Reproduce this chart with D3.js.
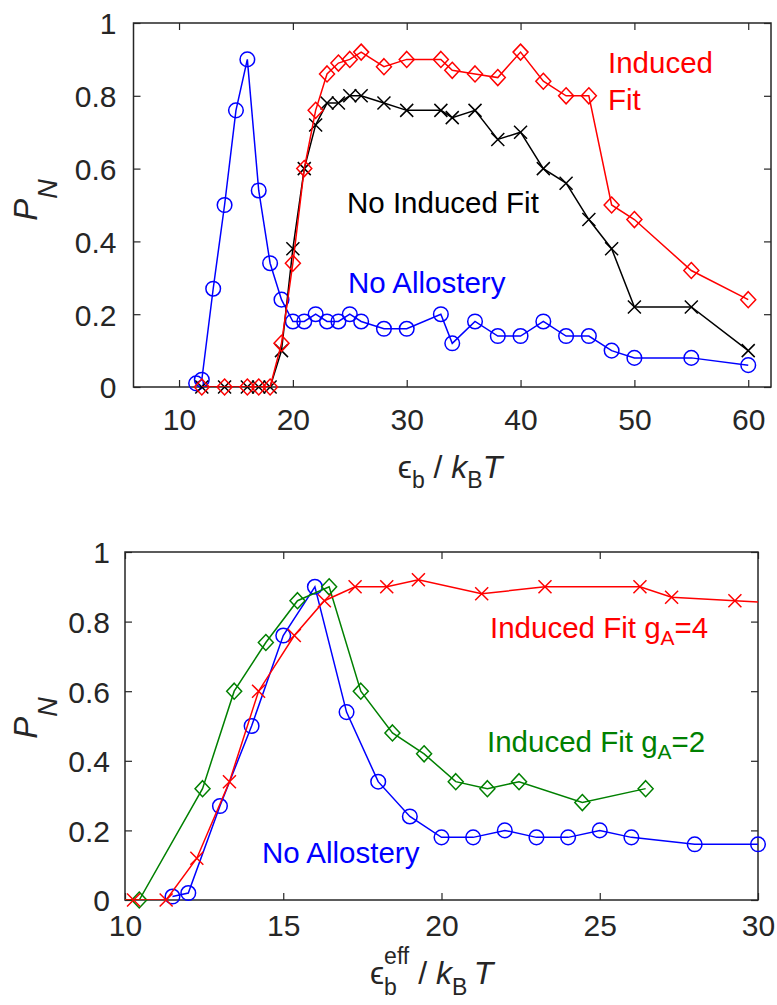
<!DOCTYPE html>
<html><head><meta charset="utf-8">
<script src="https://cdn.jsdelivr.net/npm/d3@7"></script>
<style>
body{margin:0;background:#fff}
svg{display:block}
text{font-family:"Liberation Sans",Arial,Helvetica,sans-serif}
</style>
</head><body>
<svg id="chart" width="777" height="1005"></svg>
<script>
// ---------- data: top panel ----------
const topXTicks = [10, 20, 30, 40, 50, 60];
const topXTickLabels = ["10", "20", "30", "40", "50", "60"];
const yTicks = [0, 0.2, 0.4, 0.6, 0.8, 1];
const yTickLabels = ["0", "0.2", "0.4", "0.6", "0.8", "1"];

const topNoAlloX = [11.5,12,13,14,15,16,17,18,19,20,21,22,23,24,25,26,28,30,33,34,36,38,40,42,44,46,48,50,55,60];
const topNoAlloY = [0.01,0.02,0.27,0.5,0.76,0.9,0.54,0.34,0.24,0.18,0.18,0.2,0.18,0.18,0.2,0.18,0.16,0.16,0.2,0.12,0.18,0.14,0.14,0.18,0.14,0.14,0.1,0.08,0.08,0.06];

const topNoIFX = [12,14,16,17,18,19,20,21,22,23,24,25,26,28,30,33,34,36,38,40,42,44,46,48,50,55,60];
const topNoIFY = [0,0,0,0,0,0.1,0.38,0.6,0.72,0.78,0.78,0.8,0.8,0.78,0.76,0.76,0.74,0.76,0.68,0.7,0.6,0.56,0.46,0.38,0.22,0.22,0.1];

const topIFX = [12,14,16,17,18,19,20,21,22,23,24,25,26,28,30,33,34,36,38,40,42,44,46,48,50,55,60];
const topIFY = [0,0,0,0,0,0.12,0.34,0.6,0.76,0.86,0.89,0.9,0.92,0.88,0.9,0.9,0.87,0.86,0.85,0.92,0.84,0.8,0.8,0.5,0.46,0.32,0.24];

// ---------- data: bottom panel ----------
const botXTicks = [10, 15, 20, 25, 30];
const botXTickLabels = ["10", "15", "20", "25", "30"];

const botNoAlloX = [11.5,12,13,14,15,16,17,18,19,20,21,22,23,24,25,26,28,30];
const botNoAlloY = [0.01,0.02,0.27,0.5,0.76,0.9,0.54,0.34,0.24,0.18,0.18,0.2,0.18,0.18,0.2,0.18,0.16,0.16];

const botIF2X = [8.45,10.45,12.45,13.45,14.45,15.45,16.45,17.45,18.45,19.45,20.45,21.45,22.45,24.45,26.45];
const botIF2Y = [0,0,0.32,0.6,0.74,0.86,0.9,0.6,0.48,0.42,0.34,0.32,0.34,0.28,0.32];

const botIF4X = [9.27,10.27,11.3,12.27,13.3,14.22,15.35,16.3,17.27,18.27,19.27,21.27,23.27,26.27,27.27,29.27,31.27];
const botIF4Y = [0,0,0,0.12,0.34,0.6,0.76,0.86,0.9,0.9,0.92,0.88,0.9,0.9,0.87,0.86,0.85];

// ---------- drawing ----------
const svg = d3.select("#chart");
const AX = "#262626";

function markerPath(type){
  if(type === "diamond") return "M0,-8L7.5,0L0,8L-7.5,0Z";
  if(type === "x") return "M-6.5,-6.5L6.5,6.5M-6.5,6.5L6.5,-6.5";
  return null;
}

function drawPanel(cfg, id){
  const {l, r, t, b} = cfg.box;
  const x = d3.scaleLinear().domain(cfg.xDomain).range([l, r]);
  const y = d3.scaleLinear().domain([0, 1]).range([b, t]);
  const g = svg.append("g");

  g.append("clipPath").attr("id", "clip" + id)
    .append("rect").attr("x", l).attr("y", t).attr("width", r - l).attr("height", b - t);

  const tick = 7;
  const ax = g.append("g").attr("transform", `translate(0,${b})`)
    .call(d3.axisBottom(x).tickValues(cfg.xTicks).tickSizeInner(-tick).tickSizeOuter(0)
      .tickPadding(cfg.xPad).tickFormat((d, i) => cfg.xTickLabels[i]));
  const ay = g.append("g").attr("transform", `translate(${l},0)`)
    .call(d3.axisLeft(y).tickValues(yTicks).tickSizeInner(-tick).tickSizeOuter(0)
      .tickPadding(cfg.yPad).tickFormat((d, i) => yTickLabels[i]));
  const axT = g.append("g").attr("transform", `translate(0,${t})`)
    .call(d3.axisTop(x).tickValues(cfg.xTicks).tickSizeInner(-tick).tickSizeOuter(0).tickFormat(""));
  const ayR = g.append("g").attr("transform", `translate(${r},0)`)
    .call(d3.axisRight(y).tickValues(yTicks).tickSizeInner(-tick).tickSizeOuter(0).tickFormat(""));
  [ax, ay, axT, ayR].forEach(a => {
    a.select(".domain").remove();
    a.selectAll(".tick line").attr("stroke", AX).attr("stroke-width", 1.2);
    a.selectAll(".tick text").attr("fill", AX).attr("font-size", 30)
      .attr("font-family", '"Liberation Sans",Arial,sans-serif');
  });
  ay.selectAll(".tick text").attr("dy", "0.36em");
  ax.selectAll(".tick text").attr("dy", "0.72em");

  g.append("rect").attr("x", l).attr("y", t).attr("width", r - l).attr("height", b - t)
    .attr("fill", "none").attr("stroke", AX).attr("stroke-width", 1.5);

  cfg.series.forEach(s => {
    const pts = s.x.map((v, i) => [v, s.y[i]]);
    g.append("path").attr("clip-path", `url(#clip${id})`)
      .attr("d", d3.line().x(d => x(d[0])).y(d => y(d[1]))(pts))
      .attr("fill", "none").attr("stroke", s.color).attr("stroke-width", 1.5);
    const inPts = pts.filter(d => d[0] >= cfg.xDomain[0] && d[0] <= cfg.xDomain[1]);
    if(s.marker === "circle"){
      g.selectAll(null).data(inPts).join("circle")
        .attr("cx", d => x(d[0])).attr("cy", d => y(d[1])).attr("r", 7.3)
        .attr("fill", "none").attr("stroke", s.color).attr("stroke-width", 1.5);
    } else {
      g.selectAll(null).data(inPts).join("path")
        .attr("transform", d => `translate(${x(d[0])},${y(d[1])})`)
        .attr("d", markerPath(s.marker))
        .attr("fill", "none").attr("stroke", s.color).attr("stroke-width", 1.5);
    }
  });

  const yl = g.append("text").attr("transform", `translate(37,${cfg.yLabelCenter}) rotate(-90)`)
    .attr("text-anchor", "middle").attr("fill", AX).attr("font-style", "italic");
  yl.append("tspan").attr("font-size", 33).text("P");
  yl.append("tspan").attr("font-size", 27).attr("dy", 20).text("N");

  const xl = g.append("text").attr("y", cfg.xLabelBase).attr("fill", AX).attr("font-size", 32);
  xl.append("tspan").text("\u03F5");
  xl.append("tspan").attr("font-size", 23).attr("dy", cfg.subDy).text("b");
  let back = -cfg.subDy;
  if(cfg.eff){
    xl.append("tspan").attr("font-size", 23).attr("dx", -12.8).attr("dy", -cfg.subDy - 20).text("eff");
    back = 20;
  }
  xl.append("tspan").attr("dy", back).text(" / ");
  xl.append("tspan").attr("font-style", "italic").text("k");
  xl.append("tspan").attr("font-size", 23).attr("dy", cfg.subDy).text("B");
  xl.append("tspan").attr("font-style", "italic").attr("dy", -cfg.subDy).text(cfg.eff ? "\u2009T" : "T");
  const w = xl.node().getComputedTextLength();
  xl.attr("x", cfg.xLabelCenter - w / 2);

  cfg.notes.forEach(n => {
    const tx = g.append("text").attr("x", n.x).attr("y", n.y).attr("fill", n.color).attr("font-size", 29.5);
    tx.append("tspan").text(n.text);
    if(n.sub){
      tx.append("tspan").attr("font-size", 21).attr("dy", 7).text(n.sub);
      tx.append("tspan").attr("dy", -7).text(n.after);
    }
  });
}

drawPanel({
  box: {l: 133.5, r: 771, t: 23, b: 387},
  xDomain: [6, 62], xTicks: topXTicks, xTickLabels: topXTickLabels,
  xPad: 21, yPad: 17,
  yLabelCenter: 200, xLabelCenter: 450, xLabelBase: 478, subDy: 10, eff: false,
  series: [
    {x: topNoAlloX, y: topNoAlloY, color: "#0000ff", marker: "circle"},
    {x: topNoIFX, y: topNoIFY, color: "#000000", marker: "x"},
    {x: topIFX, y: topIFY, color: "#ff0000", marker: "diamond"}
  ],
  notes: [
    {x: 608, y: 73, color: "#ff0000", text: "Induced"},
    {x: 608, y: 110, color: "#ff0000", text: "Fit"},
    {x: 347, y: 213, color: "#000000", text: "No Induced Fit"},
    {x: 348, y: 293, color: "#0000ff", text: "No Allostery"}
  ]
}, 1);

drawPanel({
  box: {l: 125, r: 758, t: 552, b: 900},
  xDomain: [10, 30], xTicks: botXTicks, xTickLabels: botXTickLabels,
  xPad: 14, yPad: 15,
  yLabelCenter: 718, xLabelCenter: 438, xLabelBase: 984, subDy: 11, eff: true,
  series: [
    {x: botNoAlloX, y: botNoAlloY, color: "#0000ff", marker: "circle"},
    {x: botIF2X, y: botIF2Y, color: "#008000", marker: "diamond"},
    {x: botIF4X, y: botIF4Y, color: "#ff0000", marker: "x"}
  ],
  notes: [
    {x: 490, y: 638, color: "#ff0000", text: "Induced Fit g", sub: "A", after: "=4"},
    {x: 487, y: 752, color: "#008000", text: "Induced Fit g", sub: "A", after: "=2"},
    {x: 262, y: 863, color: "#0000ff", text: "No Allostery"}
  ]
}, 2);
</script>
</body></html>
